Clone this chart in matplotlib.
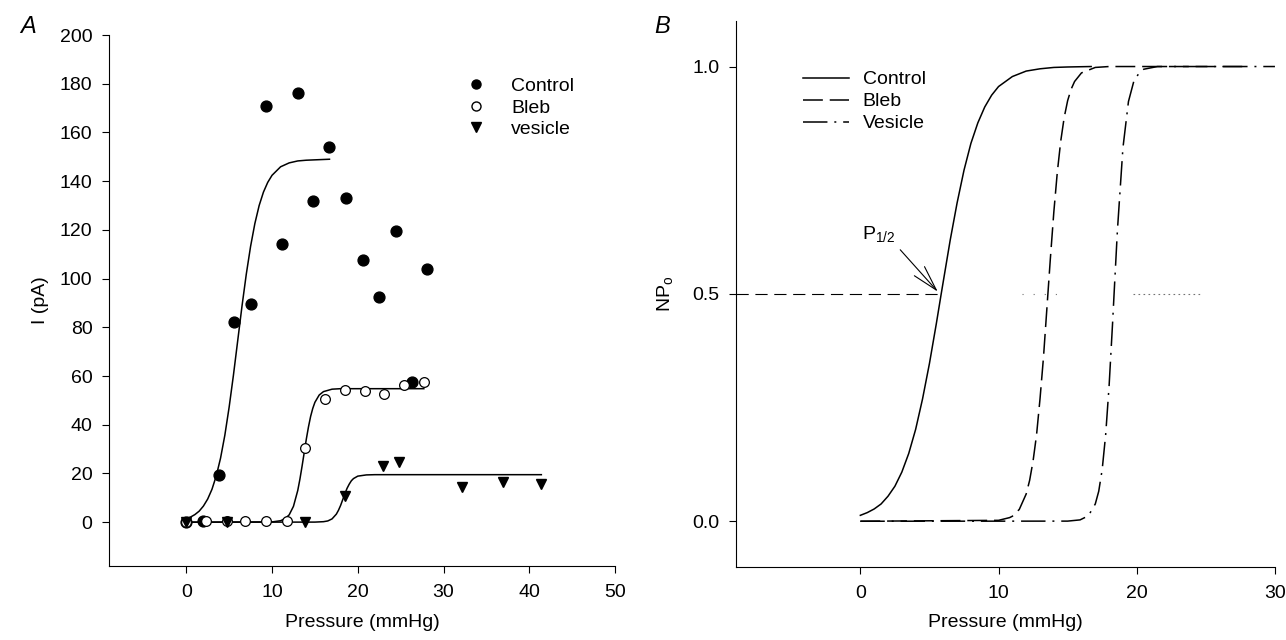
import matplotlib
matplotlib.use("Agg")
import matplotlib.pyplot as plt
from matplotlib.lines import Line2D

plt.rcParams['font.family'] = ['Liberation Sans', 'DejaVu Sans']
plt.rcParams['font.size'] = 14

# ---------------- panel A : data points ----------------
ctrl_x = [0, 2.0, 3.8, 5.6, 7.5, 9.3, 11.2, 13.0, 14.8, 16.7, 18.6, 20.6, 22.5, 24.4, 26.3, 28.1]
ctrl_y = [0, 0.3, 19.5, 82, 89.5, 171, 114, 176, 132, 154, 133, 107.5, 92.5, 119.5, 57.5, 104]

bleb_x = [0, 2.3, 4.7, 6.9, 9.3, 11.7, 13.8, 16.2, 18.5, 20.8, 23.1, 25.4, 27.7]
bleb_y = [0, 0.3, 0.3, 0.5, 0.5, 0.3, 30.5, 50.6, 54.3, 53.7, 52.5, 56.2, 57.6]

ves_x = [0, 4.7, 13.8, 18.5, 22.9, 24.8, 32.2, 36.9, 41.4]
ves_y = [0, 0, 0, 10.7, 23.1, 24.8, 14.6, 16.6, 15.8]

# fitted curves
fitc_x = [0, 0.5, 1, 1.5, 2, 2.5, 3, 3.5, 4, 4.5, 5, 5.5, 6, 6.5, 7, 7.5, 8, 8.5, 9, 9.5,
          10, 11, 12, 13, 14, 16.7]
fitc_y = [1.5, 2.1, 3.1, 4.5, 6.6, 9.5, 13.5, 19.0, 26.3, 35.7, 47.2, 60.3, 74.5, 88.7,
          101.8, 113.2, 122.6, 130.0, 135.5, 139.5, 142.4, 145.9, 147.5, 148.3, 148.6, 149]
fitb_x = [0, 10, 11, 11.5, 12, 12.5, 13, 13.25, 13.5, 13.75, 14, 14.25, 14.5, 14.75, 15,
          15.5, 16, 17, 18, 27.7]
fitb_y = [0, 0.1, 0.6, 1.4, 3.0, 6.5, 13.0, 17.6, 22.9, 28.5, 34.1, 39.1, 43.4, 46.7, 49.2,
          52.2, 53.6, 54.6, 54.8, 54.8]
fitv_x = [0, 15, 16, 16.5, 17, 17.5, 17.75, 18, 18.25, 18.5, 18.75, 19, 19.25, 19.5, 20,
          21, 22, 41.4]
fitv_y = [0, 0.03, 0.2, 0.5, 1.35, 3.3, 4.9, 6.9, 9.3, 11.7, 13.9, 15.6, 17.0, 17.9, 18.9,
          19.4, 19.5, 19.5]

# ---------------- panel B : normalised curves ----------------
nc_x = [0, 0.5, 1, 1.5, 2, 2.5, 3, 3.5, 4, 4.5, 5, 5.5, 5.85, 6.5, 7, 7.5, 8, 8.5, 9, 9.5,
        10, 11, 12, 13, 14, 15, 16.7]
nc_y = [0.013, 0.019, 0.027, 0.038, 0.055, 0.077, 0.108, 0.149, 0.202, 0.269, 0.347, 0.435,
        0.5, 0.618, 0.70, 0.772, 0.831, 0.876, 0.911, 0.937, 0.956, 0.978, 0.990, 0.995,
        0.998, 0.999, 1.0]
nb_x = [0, 10, 10.8, 11, 11.5, 12, 12.25, 12.5, 12.75, 13, 13.25, 13.5, 13.75, 14, 14.25,
        14.5, 14.75, 15, 15.25, 15.5, 16, 17, 18, 27.7]
nb_y = [0, 0.002, 0.008, 0.011, 0.026, 0.060, 0.09, 0.133, 0.19, 0.269, 0.36, 0.469, 0.578,
        0.68, 0.767, 0.836, 0.888, 0.925, 0.950, 0.967, 0.986, 0.998, 1.0, 1.0]
nv_x = [0, 15, 15.9, 16.5, 17, 17.25, 17.5, 17.75, 18, 18.25, 18.36, 18.6, 19.0, 19.4, 19.8,
        20.25, 20.5, 21.5, 30]
nv_y = [0, 0.0003, 0.003, 0.012, 0.038, 0.066, 0.114, 0.19, 0.298, 0.435, 0.5, 0.639, 0.821,
        0.923, 0.969, 0.989, 0.994, 1.0, 1.0]

p_half = 5.85

fig = plt.figure(figsize=(12.86, 6.4), dpi=100)

def style(ax):
    ax.spines['top'].set_visible(False)
    ax.spines['right'].set_visible(False)
    ax.tick_params(direction='out', length=5, width=0.8, labelsize=14)
    ax.tick_params(axis='x', pad=8)
    ax.tick_params(axis='y', pad=7)

# ---- A
axA = fig.add_axes([0.0848, 0.1156, 0.3935, 0.8297])
style(axA)
axA.plot(fitc_x, fitc_y, color='black', lw=1.1)
axA.plot(fitb_x, fitb_y, color='black', lw=1.1)
axA.plot(fitv_x, fitv_y, color='black', lw=1.1)
axA.plot(ctrl_x, ctrl_y, 'o', color='black', ms=7.8, zorder=3)
axA.plot(bleb_x, bleb_y, 'o', mfc='white', mec='black', mew=0.9, ms=7, zorder=4)
axA.plot(ves_x, ves_y, 'v', color='black', ms=7.8, zorder=5)
axA.set_xlim(-9, 50)
axA.set_ylim(-18, 200)
axA.set_xticks(range(0, 51, 10))
axA.set_yticks(range(0, 201, 20))
axA.set_xlabel('Pressure (mmHg)', fontsize=14, labelpad=9)
axA.set_ylabel('I (pA)', fontsize=14, labelpad=8)
hA = [Line2D([], [], ls='none', marker='o', color='black', ms=6.5),
      Line2D([], [], ls='none', marker='o', mfc='white', mec='black', ms=6.5),
      Line2D([], [], ls='none', marker='v', color='black', ms=6.5)]
axA.legend(hA, ['Control', 'Bleb', 'vesicle'], loc='upper left',
           bbox_to_anchor=(0.687, 0.92), frameon=False, handlelength=2.0,
           handletextpad=0.8, labelspacing=0.2, fontsize=14, borderpad=0,
           borderaxespad=0)

# ---- B
axB = fig.add_axes([0.5723, 0.1145, 0.4191, 0.8526])
style(axB)
axB.plot([-9, p_half], [0.5, 0.5], color='black', lw=0.8, dashes=(11, 6))
axB.plot([11.7, 14.6], [0.5, 0.5], color='0.45', lw=0.8, dashes=(1, 9))
axB.plot([19.7, 24.6], [0.5, 0.5], color='0.45', lw=0.8, dashes=(1.5, 3))
axB.plot(nc_x, nc_y, color='black', lw=1.1, label='Control')
axB.plot(nb_x, nb_y, color='black', lw=1.1, dashes=(13, 4.5), label='Bleb')
axB.plot(nv_x, nv_y, color='black', lw=1.1, dashes=(16, 4.5, 1.3, 4.5), label='Vesicle')
axB.set_xlim(-9, 30)
axB.set_ylim(-0.1, 1.1)
axB.set_xticks([0, 10, 20, 30])
axB.set_yticks([0.0, 0.5, 1.0])
axB.set_yticklabels(['0.0', '0.5', '1.0'])
axB.set_xlabel('Pressure (mmHg)', fontsize=14, labelpad=9)
axB.set_ylabel('NP$_\\mathregular{o}$', fontsize=14, labelpad=12)
axB.legend(loc='upper left', bbox_to_anchor=(0.124, 0.909), frameon=False,
           handlelength=2.4, handletextpad=0.67, labelspacing=0.23,
           fontsize=14, borderpad=0, borderaxespad=0)
axB.annotate('P$_\\mathregular{1/2}$', xy=(5.6, 0.505), xytext=(0.15, 0.63),
             fontsize=14, va='center',
             arrowprops=dict(arrowstyle='->,head_length=1.3,head_width=0.35',
                             color='black', lw=0.8, shrinkA=2, shrinkB=0,
                             relpos=(1.0, 0.0)))

fig.text(0.0156, 0.948, 'A', fontsize=17, style='italic')
fig.text(0.509, 0.948, 'B', fontsize=17, style='italic')

fig.savefig('out.png', dpi=100)
